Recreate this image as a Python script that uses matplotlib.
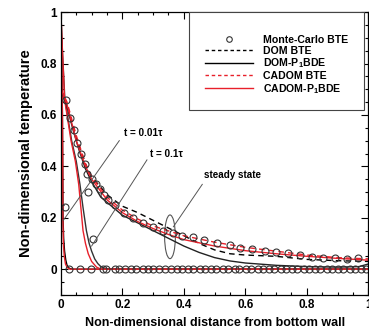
import numpy as np
import matplotlib
matplotlib.use('Agg')
import matplotlib.pyplot as plt
from matplotlib.lines import Line2D
from matplotlib.patches import Ellipse, Rectangle
from matplotlib.ticker import MultipleLocator, FuncFormatter

plt.rcParams['font.family'] = ['Liberation Sans', 'DejaVu Sans']
plt.rcParams['font.weight'] = 'bold'
plt.rcParams['mathtext.fontset'] = 'custom'
plt.rcParams['mathtext.bf'] = 'Liberation Sans:bold'
plt.rcParams['mathtext.rm'] = 'Liberation Sans:bold'
plt.rcParams['mathtext.default'] = 'bf'

##### t = 0.01 tau
x_t001 = [0, 0.003, 0.005, 0.006, 0.007, 0.009, 0.012, 0.016, 0.02, 0.025, 0.03, 0.04, 1.0]
y_t001 = [1.0, 0.8, 0.6, 0.4, 0.2, 0.12, 0.07, 0.035, 0.015, 0.006, 0.002, 0.0, 0.0]
x_t001_red = [0, 0.003, 0.005, 0.006, 0.0065, 0.008, 0.011, 0.015, 0.02, 0.025, 0.03, 1.0]
y_t001_red = [1.0, 0.8, 0.6, 0.4, 0.2, 0.1, 0.05, 0.02, 0.008, 0.002, 0.0, 0.0]
mc_x_t001 = [0.013, 0.026, 0.062, 0.098, 0.137, 0.176, 0.208, 0.246, 0.283, 0.320, 0.358,
             0.395, 0.431, 0.468, 0.506, 0.544, 0.581, 0.619, 0.656, 0.694, 0.731, 0.769,
             0.806, 0.844, 0.881, 0.919, 0.956, 0.992]
mc_y_t001 = [0.24] + [0.0] * 27

##### t = 0.1 tau
x_t01 = [0, 0.005, 0.013, 0.035, 0.05, 0.062, 0.072, 0.083, 0.092, 0.1, 0.11, 0.12, 0.13,
         0.143, 0.16, 1.0]
y_t01 = [1.0, 0.85, 0.66, 0.5, 0.42, 0.33, 0.24, 0.15, 0.1, 0.07, 0.04, 0.022, 0.01,
         0.003, 0.0, 0.0]
x_t01_red = [0, 0.005, 0.012, 0.033, 0.047, 0.058, 0.065, 0.072, 0.08, 0.089, 0.1, 0.116,
             0.13, 1.0]
y_t01_red = [1.0, 0.85, 0.66, 0.5, 0.42, 0.33, 0.24, 0.15, 0.1, 0.06, 0.03, 0.008, 0.0, 0.0]
mc_x_t01 = [0.089, 0.105, 0.147, 0.19, 0.228, 0.267, 0.300, 0.340, 0.378, 0.414, 0.452,
            0.49, 0.528, 0.566, 0.603, 0.641, 0.678, 0.716, 0.753, 0.791, 0.828, 0.866,
            0.903, 0.941, 0.978]
mc_y_t01 = [0.30, 0.117] + [0.0] * 23

##### steady state
mc_x_ss = [0.018, 0.029, 0.042, 0.054, 0.067, 0.078, 0.086, 0.1, 0.113, 0.127, 0.14, 0.154,
           0.176, 0.205, 0.236, 0.268, 0.30, 0.333, 0.366, 0.393, 0.431, 0.464, 0.507, 0.55,
           0.583, 0.621, 0.664, 0.70, 0.74, 0.778, 0.817, 0.854, 0.893, 0.93, 0.967]
mc_y_ss = [0.66, 0.59, 0.54, 0.49, 0.45, 0.41, 0.37, 0.35, 0.33, 0.31, 0.29, 0.27,
           0.25, 0.22, 0.20, 0.18, 0.165, 0.15, 0.139, 0.128, 0.124, 0.113, 0.103, 0.093,
           0.084, 0.078, 0.071, 0.067, 0.061, 0.054, 0.048, 0.045, 0.042, 0.039, 0.042]

x_dom_bte = [0, 0.02, 0.05, 0.08, 0.1, 0.15, 0.2, 0.25, 0.3, 0.35, 0.4, 0.45, 0.5, 0.55, 0.6,
             0.7, 0.8, 0.9, 1.0]
y_dom_bte = [0.70, 0.64, 0.51, 0.41, 0.36, 0.29, 0.245, 0.22, 0.19, 0.16, 0.13, 0.10, 0.075,
             0.06, 0.055, 0.05, 0.038, 0.033, 0.03]
x_dom_p1 = [0, 0.018, 0.04, 0.06, 0.08, 0.1, 0.13, 0.16, 0.2, 0.25, 0.3, 0.35, 0.4, 0.45, 0.5,
            0.55, 0.6, 0.7, 0.8, 0.9, 0.97, 1.0]
y_dom_p1 = [0.70, 0.64, 0.54, 0.46, 0.39, 0.34, 0.28, 0.25, 0.21, 0.18, 0.15, 0.12, 0.09,
            0.065, 0.045, 0.032, 0.024, 0.015, 0.01, 0.008, 0.01, 0.02]
x_cadom_bte = [0, 0.02, 0.05, 0.08, 0.1, 0.15, 0.2, 0.25, 0.3, 0.4, 0.5, 0.6, 0.7, 0.8, 0.9, 1.0]
y_cadom_bte = [0.70, 0.65, 0.52, 0.41, 0.36, 0.28, 0.23, 0.195, 0.168, 0.13, 0.105, 0.085,
               0.07, 0.055, 0.045, 0.04]
x_cadom_p1 = [0, 0.02, 0.05, 0.08, 0.1, 0.15, 0.2, 0.25, 0.3, 0.35, 0.4, 0.5, 0.6, 0.7, 0.8,
              0.9, 1.0]
y_cadom_p1 = [0.70, 0.64, 0.50, 0.40, 0.35, 0.27, 0.22, 0.185, 0.158, 0.135, 0.115, 0.09,
              0.072, 0.06, 0.05, 0.042, 0.035]

fig = plt.figure(figsize=(3.69, 3.28), dpi=100)
ax = fig.add_axes([0.165, 0.101, 0.833, 0.862])

red = '#e8202a'
lw = 1.0
mc_style = dict(linestyle='none', marker='o', markersize=5, markerfacecolor='none',
                markeredgecolor='#333333', markeredgewidth=0.8)

# transient curves
ax.plot(x_t001, y_t001, color='k', lw=lw)
ax.plot(x_t001_red, y_t001_red, color=red, lw=lw)
ax.plot(x_t01, y_t01, color='#333333', lw=lw)
ax.plot(x_t01_red, y_t01_red, color=red, lw=lw)

# steady state curves
ax.plot(x_dom_p1, y_dom_p1, color='#222222', lw=lw)
ax.plot(x_dom_bte, y_dom_bte, color='k', lw=lw, dashes=(4, 3))
ax.plot(x_cadom_p1, y_cadom_p1, color=red, lw=lw)
ax.plot(x_cadom_bte, y_cadom_bte, color=red, lw=lw, dashes=(4, 3))

# Monte-Carlo
ax.plot(mc_x_t001, mc_y_t001, **mc_style)
ax.plot(mc_x_t01, mc_y_t01, **mc_style)
ax.plot(mc_x_ss, mc_y_ss, **mc_style)

# annotations
gray = '#555555'
ax.plot([0.19, 0.008], [0.50, 0.19], color=gray, lw=0.7)
ax.text(0.205, 0.53, 't = 0.01τ', fontsize=7.2, va='center', ha='left')
ax.plot([0.28, 0.1], [0.425, 0.09], color=gray, lw=0.7)
ax.text(0.29, 0.45, 't = 0.1τ', fontsize=7.2, va='center', ha='left')
ax.plot([0.46, 0.366], [0.33, 0.165], color=gray, lw=0.7)
ax.text(0.465, 0.366, 'steady state', fontsize=7.1, va='center', ha='left')
ax.add_patch(Ellipse((0.355, 0.126), 0.035, 0.17, fill=False, edgecolor=gray, lw=0.8))

# legend
ax.add_patch(Rectangle((0.416, 0.654), 0.571, 0.346, transform=ax.transAxes,
                       facecolor='white', edgecolor='#444444', lw=0.8, zorder=4))
leg_mc = dict(mc_style, markersize=4)
handles = [Line2D([], [], **leg_mc),
           Line2D([], [], color='k', lw=lw, dashes=(2.5, 2)),
           Line2D([], [], color='k', lw=lw),
           Line2D([], [], color=red, lw=lw, dashes=(2.5, 2)),
           Line2D([], [], color=red, lw=lw)]
labels = ['Monte-Carlo BTE', 'DOM BTE', r'DOM-P$_1$BDE', 'CADOM BTE', r'CADOM-P$_1$BDE']
leg = ax.legend(handles, labels, loc='upper left', bbox_to_anchor=(0.468, 0.92),
                frameon=False, fontsize=7.6, handlelength=4.6, handletextpad=0.9,
                labelspacing=0.08, borderaxespad=0, borderpad=0)
leg.set_zorder(5)

ax.set_xlim(0, 1)
ax.set_ylim(-0.1, 1)
ax.xaxis.set_major_locator(MultipleLocator(0.2))
ax.xaxis.set_minor_locator(MultipleLocator(0.05))
ax.yaxis.set_major_locator(MultipleLocator(0.2))
ax.yaxis.set_minor_locator(MultipleLocator(0.05))
fmt = FuncFormatter(lambda v, p: '0' if abs(v) < 1e-9 else ('1' if abs(v - 1) < 1e-9 else f'{v:g}'))
ax.xaxis.set_major_formatter(fmt)
ax.yaxis.set_major_formatter(fmt)
ax.set_yticks([0, 0.2, 0.4, 0.6, 0.8, 1.0])
ax.tick_params(which='both', direction='in', top=True, right=True, labelsize=8.5, width=0.8)
ax.tick_params(which='major', length=5, pad=3)
ax.tick_params(which='minor', length=2.5)
for s in ax.spines.values():
    s.set_linewidth(0.9)

ax.set_xlabel('Non-dimensional distance from bottom wall', fontsize=9, fontweight='bold', labelpad=4)
ax.set_ylabel('Non-dimensional temperature', fontsize=10.5, fontweight='bold', labelpad=5)

plt.savefig('out.png', dpi=100)
